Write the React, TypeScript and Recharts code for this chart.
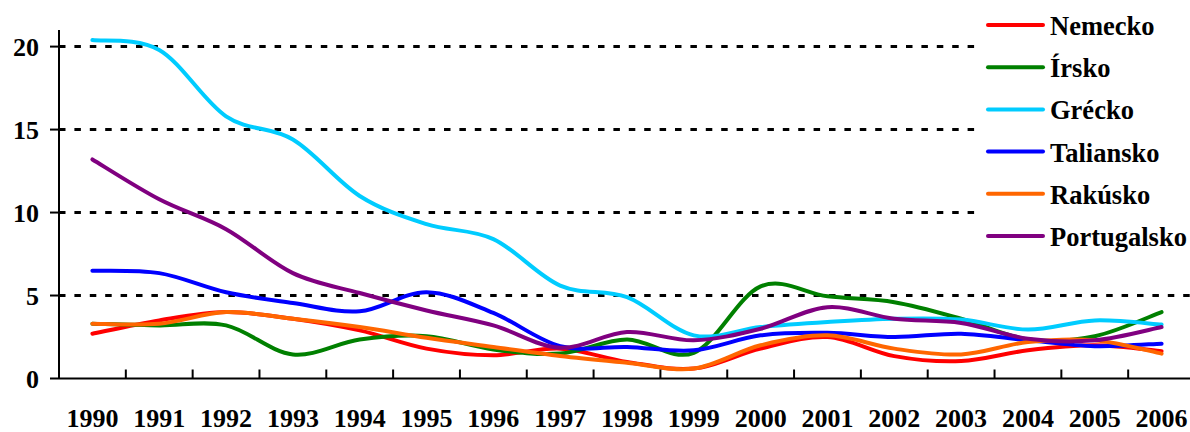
import { CartesianGrid, Legend, Line, LineChart, XAxis, YAxis } from 'recharts';

const years = [1990, 1991, 1992, 1993, 1994, 1995, 1996, 1997, 1998, 1999, 2000, 2001, 2002, 2003, 2004, 2005, 2006];

const nemecko = [2.7, 3.5, 4.0, 3.6, 2.9, 1.8, 1.4, 1.8, 1.0, 0.6, 1.8, 2.5, 1.35, 1.05, 1.7, 2.0, 1.65];
const irsko = [3.3, 3.2, 3.2, 1.45, 2.35, 2.55, 1.75, 1.5, 2.35, 1.55, 5.55, 4.95, 4.6, 3.6, 2.35, 2.55, 4.0];
const grecko = [20.4, 19.8, 15.8, 14.4, 11.0, 9.3, 8.4, 5.6, 4.9, 2.6, 3.1, 3.4, 3.6, 3.55, 2.95, 3.5, 3.25];
const taliansko = [6.5, 6.35, 5.2, 4.55, 4.05, 5.2, 3.95, 1.95, 1.9, 1.7, 2.6, 2.75, 2.5, 2.7, 2.3, 1.95, 2.1];
const rakusko = [3.3, 3.3, 4.0, 3.6, 3.1, 2.45, 1.9, 1.35, 0.95, 0.6, 2.0, 2.6, 1.8, 1.45, 2.2, 2.3, 1.5];
const portugalsko = [13.2, 10.8, 9.0, 6.35, 5.15, 4.1, 3.2, 1.85, 2.8, 2.3, 3.0, 4.3, 3.6, 3.35, 2.4, 2.3, 3.1];

const yTicks = [0, 5, 10, 15, 20];

const series = [
  { key: 'nemecko', name: 'Nemecko', values: nemecko, color: '#ff0000' },
  { key: 'irsko', name: 'Írsko', values: irsko, color: '#008000' },
  { key: 'grecko', name: 'Grécko', values: grecko, color: '#00ccff' },
  { key: 'taliansko', name: 'Taliansko', values: taliansko, color: '#0000ff' },
  { key: 'rakusko', name: 'Rakúsko', values: rakusko, color: '#ff6600' },
  { key: 'portugalsko', name: 'Portugalsko', values: portugalsko, color: '#800080' },
];

const data = years.map((year, i) => {
  const row: Record<string, number> = { year };
  series.forEach((s) => (row[s.key] = s.values[i]));
  return row;
});

// labels on whole years, tick marks half way between them
const xTicks = years.flatMap((y, i) => (i === 0 ? [y] : [y - 0.5, y]));

const FONT = "'Liberation Serif', 'DejaVu Serif', serif";
const textStyle = { fontFamily: FONT, fontWeight: 700 };

// smoothed line like a spreadsheet chart (Catmull-Rom through the points)
const smoothCurve = (context: any) => {
  let pts: number[][] = [];
  return {
    areaStart() {},
    areaEnd() {},
    lineStart() {
      pts = [];
    },
    point(x: number, y: number) {
      pts.push([+x, +y]);
    },
    lineEnd() {
      if (!pts.length) return;
      context.moveTo(pts[0][0], pts[0][1]);
      for (let i = 0; i < pts.length - 1; i++) {
        const p0 = pts[Math.max(i - 1, 0)];
        const p1 = pts[i];
        const p2 = pts[i + 1];
        const p3 = pts[Math.min(i + 2, pts.length - 1)];
        context.bezierCurveTo(
          p1[0] + (p2[0] - p0[0]) / 6,
          p1[1] + (p2[1] - p0[1]) / 6,
          p2[0] - (p3[0] - p1[0]) / 6,
          p2[1] - (p3[1] - p1[1]) / 6,
          p2[0],
          p2[1],
        );
      }
    },
  };
};

function YearTick({ x, y, payload }: any) {
  const v = payload.value;
  if (!Number.isInteger(v)) {
    return <line x1={x} x2={x} y1={y} y2={y - 9} stroke="#000" strokeWidth={2} />;
  }
  return (
    <text x={x} y={y + 48} textAnchor="middle" style={textStyle} fontSize={26} fill="#000">
      {v}
    </text>
  );
}

function YTick({ x, y, payload }: any) {
  return (
    <text x={x} y={y + 9} textAnchor="end" style={textStyle} fontSize={26} fill="#000">
      {payload.value}
    </text>
  );
}

function LegendBox({ payload }: any) {
  const colors: Record<string, string> = {};
  (payload || []).forEach((p: any) => (colors[p.dataKey] = p.color));
  return (
    <svg width={215} height={262} style={{ display: 'block', background: '#fff' }}>
      {series.map((s, i) => {
        const cy = 25 + i * 42.2;
        return (
          <g key={s.key}>
            <line x1={8} x2={63} y1={cy} y2={cy} stroke={colors[s.key] || s.color} strokeWidth={4} strokeLinecap="round" />
            <text x={70} y={cy + 10} style={textStyle} fontSize={26.5} fill="#000">
              {s.name}
            </text>
          </g>
        );
      })}
    </svg>
  );
}

export default function App() {
  return (
    <div style={{ width: 1190, height: 432, overflow: 'hidden', position: 'relative', background: '#fff' }}>
      <style>{'body{margin:0}'}</style>
      <LineChart width={1195} height={432} data={data} margin={{ top: 30, right: 0, bottom: 0, left: 0 }}>
        <CartesianGrid
          vertical={false}
          horizontalValues={yTicks.filter((v) => v > 0)}
          horizontal={{ stroke: '#000', strokeWidth: 3, strokeDasharray: '6.5 8.9' }}
          stroke="#000"
          strokeWidth={3}
          strokeDasharray="6.5 8.9"
        />
        <XAxis
          dataKey="year"
          type="number"
          domain={[1989.5, 2006.5]}
          ticks={xTicks}
          interval={0}
          height={53.5}
          tickSize={0}
          tickMargin={0}
          tickLine={false}
          axisLine={{ stroke: '#000', strokeWidth: 2 }}
          tick={<YearTick />}
        />
        <YAxis
          type="number"
          domain={[0, 21]}
          ticks={yTicks}
          interval={0}
          width={59}
          tickSize={9}
          tickMargin={11}
          axisLine={{ stroke: '#000', strokeWidth: 2 }}
          tickLine={{ stroke: '#000', strokeWidth: 2 }}
          tick={<YTick />}
        />
        {series.map((s) => (
          <Line
            key={s.key}
            dataKey={s.key}
            name={s.name}
            stroke={s.color}
            strokeWidth={4}
            strokeLinecap="round"
            strokeLinejoin="round"
            type={smoothCurve as any}
            dot={false}
            activeDot={false}
            isAnimationActive={false}
          />
        ))}
        <Legend
          layout="horizontal"
          align="center"
          verticalAlign="middle"
          wrapperStyle={{ left: 980, top: 0, width: 215 }}
          content={<LegendBox />}
        />
      </LineChart>
    </div>
  );
}
